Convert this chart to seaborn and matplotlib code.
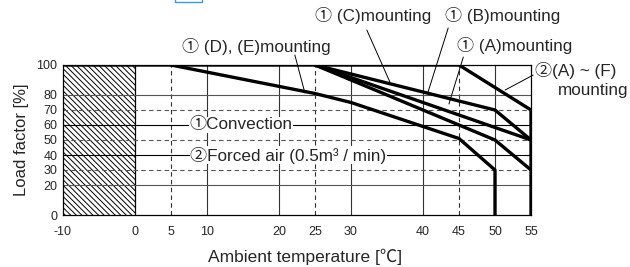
import matplotlib
matplotlib.use("Agg")
import matplotlib.pyplot as plt
from matplotlib.patches import Rectangle
import pandas as pd
import seaborn as sns

# ---------- data ----------
curve_names = ["forced_AF", "conv_A", "conv_B", "conv_C", "conv_DE"]
forced_af_x = [-10, 45, 55, 55]
forced_af_y = [100, 100, 70, 0]
conv_a_x = [25, 50, 55]
conv_a_y = [100, 50, 30]
conv_b_x = [25, 50, 55]
conv_b_y = [100, 70, 50]
conv_c_x = [25, 55]
conv_c_y = [100, 50]
conv_de_x = [5, 25, 30, 45, 50, 50]
conv_de_y = [100, 81, 75, 51, 30, 0]

x_ticks = [-10, 0, 5, 10, 20, 25, 30, 40, 45, 50, 55]
y_ticks = [0, 20, 30, 40, 50, 60, 70, 80, 100]
solid_x = [10, 20, 30, 40, 50]
dashed_x = [5, 25, 45]
solid_y = [20, 80]
dashed_y = [30, 50, 70]
label_y = [60, 40]

FONT = ["Liberation Sans", "Noto Sans CJK JP", "DejaVu Sans"]
FS = 12.3

sns.set_style("white")
plt.rcParams["font.family"] = FONT
plt.rcParams["hatch.linewidth"] = 0.7

frames = []
for name, xs, ys in zip(
    curve_names,
    [forced_af_x, conv_a_x, conv_b_x, conv_c_x, conv_de_x],
    [forced_af_y, conv_a_y, conv_b_y, conv_c_y, conv_de_y],
):
    frames.append(pd.DataFrame({"curve": name, "temp": xs, "load": ys}))
df = pd.concat(frames, ignore_index=True)

fig = plt.figure(figsize=(6.3, 2.67), dpi=100)
ax = fig.add_axes([63 / 630, 1 - 215 / 267, (531 - 63) / 630, 150 / 267])

# hatched no-operation zone
ax.axvspan(-10, 0, facecolor="white", edgecolor="black", hatch="\\\\\\\\\\\\", lw=0, zorder=0)
ax.axvline(0, color="black", lw=0.9, zorder=1)

for x in solid_x:
    ax.axvline(x, color="#333333", lw=0.8, zorder=1)
for x in dashed_x:
    ax.axvline(x, color="#333333", lw=0.8, ls=(0, (4, 3)), zorder=1)
for y in solid_y:
    ax.axhline(y, color="#555555", lw=0.8, zorder=1)
for y in dashed_y:
    ax.axhline(y, color="#555555", lw=0.8, ls=(0, (4, 3)), zorder=1)
for y in label_y:
    ax.axhline(y, color="black", lw=0.8, zorder=1)

for name in curve_names:
    sub = df[df["curve"] == name]
    sns.lineplot(data=sub, x="temp", y="load", sort=False, estimator=None,
                 color="black", lw=2.4, ax=ax, zorder=3)

ax.set_xlim(-10, 55)
ax.set_ylim(0, 100)
ax.set_xticks(x_ticks)
ax.set_xticklabels([str(v) for v in x_ticks])
ax.set_yticks(y_ticks)
ax.set_yticklabels([str(v) for v in y_ticks])
ax.tick_params(axis="both", length=0, labelsize=9)
ax.tick_params(axis="x", pad=8)
ax.tick_params(axis="y", pad=4)
for s in ax.spines.values():
    s.set_color("black")
    s.set_linewidth(0.9)
ax.set_xlabel("Ambient temperature [\u2103]", fontsize=12.5)
ax.xaxis.set_label_coords(0.517, -0.225)
ax.set_ylabel("Load factor [%]", fontsize=12, labelpad=5)

# labels on the grid lines
box = dict(facecolor="white", edgecolor="none", pad=0.5)
ax.text(14.7, 60, "\u2460Convection", fontsize=FS, ha="center", va="center", bbox=box, zorder=2)
ax.text(21.3, 40, "\u2461Forced air (0.5m\u00b3 / min)", fontsize=FS, ha="center", va="center", bbox=box, zorder=2)

# curve callouts
lead = dict(arrowstyle="-", lw=0.7, color="black", shrinkA=0, shrinkB=0)
callouts = [
    ("\u2460 (D), (E)mounting", (6.5, 112), (22.2, 106.7), (23.6, 81.3)),
    ("\u2460 (C)mounting", (25.0, 133.3), (32.2, 123.3), (35.4, 88.7)),
    ("\u2460 (B)mounting", (43.1, 133.3), (43.5, 124.7), (40.7, 82)),
    ("\u2460 (A)mounting", (44.7, 112.7), (45.6, 105.3), (43.6, 74)),
    ("\u2461(A) ~ (F)", (55.6, 96), (55.3, 93.3), (51.4, 83.3)),
]
for txt, pos, start, end in callouts:
    ax.text(pos[0], pos[1], txt, fontsize=FS, ha="left", va="center", clip_on=False)
    ax.annotate("", xy=end, xytext=start, arrowprops=lead, annotation_clip=False)
ax.text(58.8, 83.3, "mounting", fontsize=FS, ha="left", va="center", clip_on=False)

# small blue box cut at the top edge
fig.patches.append(Rectangle((175 / 630, 1 - 2 / 267), 27 / 630, 4 / 267,
                             transform=fig.transFigure, fill=False,
                             edgecolor="#3b9ad9", lw=1))

fig.savefig("out.png", dpi=100)
